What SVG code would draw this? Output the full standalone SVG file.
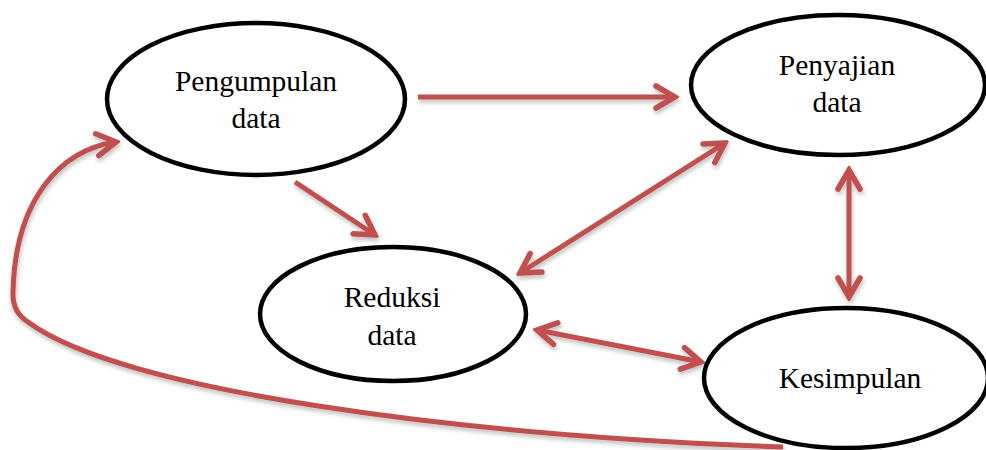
<svg xmlns="http://www.w3.org/2000/svg" width="986" height="450" viewBox="0 0 986 450">
<style>
.node ellipse{fill:#fff;stroke:#000;stroke-width:4.5}
.node text{font-family:'Liberation Serif','Times New Roman',Times,serif;font-size:29.5px;fill:#000;text-anchor:middle}
.conn{fill:none;stroke:#C0504D;stroke-width:5;marker-end:url(#ah)}
.both{marker-start:url(#ah)}
</style>
<defs>
<marker id="ah" markerUnits="userSpaceOnUse" orient="auto-start-reverse" refX="0" refY="0" viewBox="-26 -16 30 32" markerWidth="30" markerHeight="32">
<path d="M-19,-11 L0,0 L-19,11" fill="none" stroke="#C0504D" stroke-width="5.5" stroke-linejoin="miter" stroke-linecap="round"/>
</marker>
<filter id="sh" x="-10%" y="-10%" width="120%" height="130%">
<feDropShadow dx="1" dy="3" stdDeviation="2" flood-color="#000" flood-opacity="0.25"/>
</filter>
</defs>
<g id="connectors" filter="url(#sh)">
<path class="conn" d="M418,97 L675,97"/>
<path class="conn" d="M295,182 L375,235"/>
<path class="conn both" d="M520,273 L725,143"/>
<path class="conn both" d="M849,170 L849,297"/>
<path class="conn both" d="M537,330 L701,362"/>
<path class="conn" d="M783,447 C450,435 120,390 28,322 Q12,312 13,292 C15,200 60,150 116,142"/>
</g>
<g id="pengumpulan" class="node">
<ellipse cx="256" cy="99" rx="149" ry="76"/>
<text x="256" y="91" font-family="'Liberation Serif', serif">Pengumpulan</text>
<text x="256" y="128" font-family="'Liberation Serif', serif">data</text>
</g>
<g id="penyajian" class="node">
<ellipse cx="838" cy="85" rx="147" ry="70"/>
<text x="837" y="75" font-family="'Liberation Serif', serif">Penyajian</text>
<text x="837" y="112" font-family="'Liberation Serif', serif">data</text>
</g>
<g id="reduksi" class="node">
<ellipse cx="393" cy="314" rx="133" ry="67"/>
<text x="392" y="307" font-family="'Liberation Serif', serif">Reduksi</text>
<text x="392" y="345" font-family="'Liberation Serif', serif">data</text>
</g>
<g id="kesimpulan" class="node">
<ellipse cx="846" cy="378" rx="142" ry="70"/>
<text x="850" y="388" font-family="'Liberation Serif', serif">Kesimpulan</text>
</g>
</svg>
